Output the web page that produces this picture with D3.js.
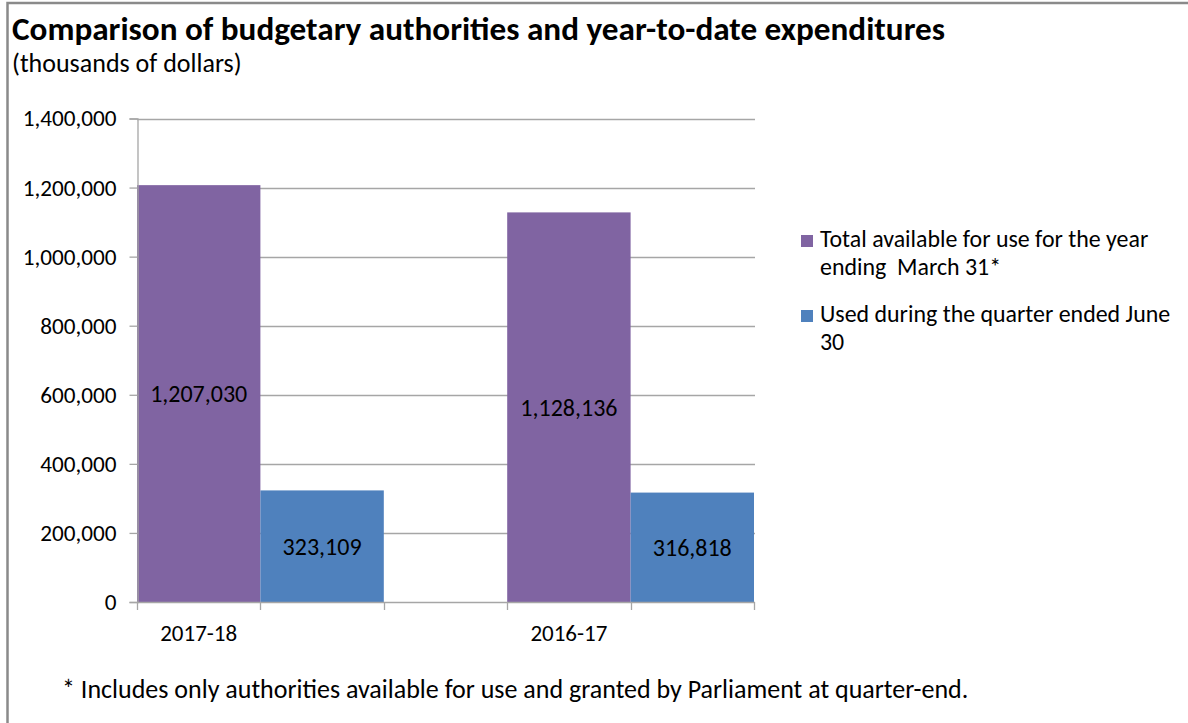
<!DOCTYPE html>
<html>
<head>
<meta charset="utf-8">
<script src="https://cdn.jsdelivr.net/npm/d3@7"></script>
<style>
  html, body { margin: 0; padding: 0; background: #fff; }
  svg { display: block; font-family: Carlito, Lato, "Open Sans", sans-serif; }
</style>
</head>
<body>
<svg id="chart" width="1188" height="723"></svg>
<script>
const title = "Comparison of budgetary authorities and year-to-date expenditures";
const subtitle = "(thousands of dollars)";
const footnote = "* Includes only authorities available for use and granted by Parliament at quarter-end.";
const categories = ["2017-18", "2016-17"];
const seriesNames = [
  ["Total available for use for the year", "ending  March 31*"],
  ["Used during the quarter ended June", "30"]
];
const totalAvailable = [1207030, 1128136];
const usedQuarter = [323109, 316818];
const seriesColors = ["#8064A2", "#4F81BD"];
const yTicks = [0, 200000, 400000, 600000, 800000, 1000000, 1200000, 1400000];

const svg = d3.select("#chart");
const fmt = d3.format(",");

// outer frame (right/bottom edges fall outside the view)
svg.append("rect").attr("x", 7.5).attr("y", 3).attr("width", 1200).attr("height", 800)
  .attr("fill", "none").attr("stroke", "#8a8a8a").attr("stroke-width", 2.5);

svg.append("text").attr("x", 12).attr("y", 40).attr("font-size", 33.2).attr("font-weight", "bold")
  .attr("fill", "#000").text(title);
svg.append("text").attr("x", 12).attr("y", 72).attr("font-size", 26).attr("fill", "#000").text(subtitle);

const plot = { left: 137, right: 754, top: 118.5, bottom: 602 };
const y = d3.scaleLinear().domain([0, 1400000]).range([plot.bottom, plot.top]);

// slots: each category has one slot per series plus one empty gap slot
const nSeries = 2;
const slots = d3.range(categories.length * (nSeries + 1) - 1);
const x = d3.scaleBand().domain(slots).range([plot.left, plot.right]).padding(0);

// gridlines
svg.append("g").selectAll("line").data(yTicks.filter(d => d > 0)).join("line")
  .attr("x1", plot.left).attr("x2", plot.right + 1)
  .attr("y1", d => Math.round(y(d)) + 0.5).attr("y2", d => Math.round(y(d)) + 0.5)
  .attr("stroke", "#a6a6a6").attr("stroke-width", 1.3);

// bars
const data = [];
categories.forEach((c, i) => {
  [totalAvailable[i], usedQuarter[i]].forEach((v, s) => {
    data.push({ cat: c, s, v, slot: i * (nSeries + 1) + s });
  });
});
svg.append("g").selectAll("rect").data(data).join("rect")
  .attr("x", d => x(d.slot)).attr("width", x.bandwidth())
  .attr("y", d => y(d.v)).attr("height", d => y(0) - y(d.v))
  .attr("fill", d => seriesColors[d.s]);

// data labels
svg.append("g").selectAll("text").data(data).join("text")
  .attr("x", d => x(d.slot) + x.bandwidth() / 2)
  .attr("y", d => (y(d.v) + y(0)) / 2)
  .attr("dy", "0.35em").attr("text-anchor", "middle")
  .attr("font-size", 24).attr("fill", "#000")
  .text(d => fmt(d.v));

// y axis
const yAxis = d3.axisLeft(y).tickValues(yTicks).tickSize(8).tickPadding(13).tickFormat(fmt);
const gy = svg.append("g").attr("transform", `translate(${plot.left + 0.5},0)`).call(yAxis);
gy.select(".domain").attr("stroke", "#a6a6a6").attr("stroke-width", 1.3);
gy.selectAll(".tick line").attr("stroke", "#a6a6a6").attr("stroke-width", 1.3);
gy.selectAll(".tick text").attr("font-size", 23.2).attr("fill", "#000")
  .attr("font-family", "Carlito, Lato, 'Open Sans', sans-serif");

// x axis baseline and tick marks at slot boundaries
const boundaries = slots.map(s => x(s)).concat([plot.right]);
svg.append("line").attr("x1", plot.left).attr("x2", plot.right + 1)
  .attr("y1", y(0) + 0.5).attr("y2", y(0) + 0.5).attr("stroke", "#a6a6a6").attr("stroke-width", 1.3);
svg.append("g").selectAll("line").data(boundaries).join("line")
  .attr("x1", d => Math.round(d) + 0.5).attr("x2", d => Math.round(d) + 0.5)
  .attr("y1", y(0)).attr("y2", y(0) + 8).attr("stroke", "#a6a6a6").attr("stroke-width", 1.3);
svg.append("g").selectAll("text").data(categories).join("text")
  .attr("x", (c, i) => x(i * (nSeries + 1)) + x.bandwidth() / 2)
  .attr("y", 641).attr("text-anchor", "middle").attr("font-size", 23).attr("fill", "#000")
  .text(c => c);

// legend
const legend = svg.append("g");
seriesNames.forEach((lines, s) => {
  const base = 247 + s * 75;
  legend.append("rect").attr("x", 801).attr("y", base - 12).attr("width", 12).attr("height", 12)
    .attr("fill", seriesColors[s]);
  lines.forEach((t, j) => {
    legend.append("text").attr("x", 820).attr("y", base + j * 28)
      .attr("font-size", 23.9).attr("fill", "#000").style("white-space", "pre").text(t);
  });
});

svg.append("text").attr("x", 62).attr("y", 698).attr("font-size", 26).attr("fill", "#000").text(footnote);
</script>
</body>
</html>
